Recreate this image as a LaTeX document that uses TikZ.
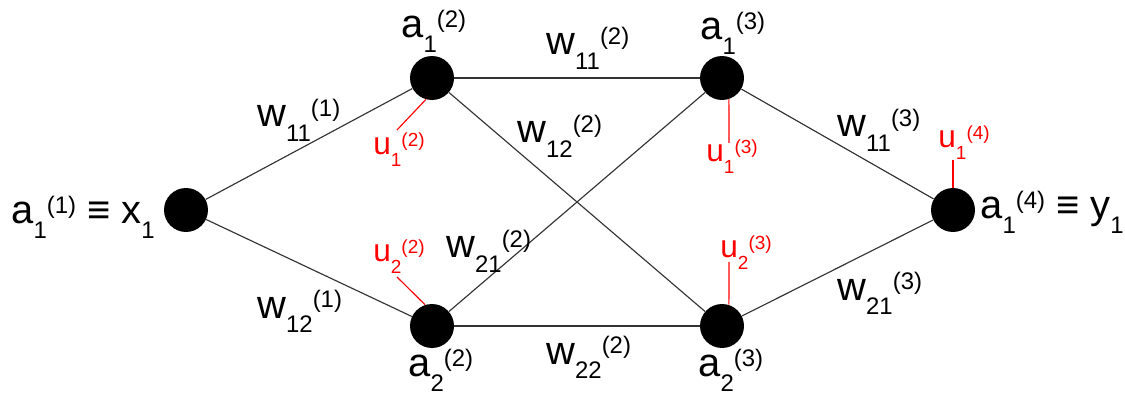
\documentclass[tikz,border=0pt]{standalone}
\usepackage{fontspec}
\setmainfont{Liberation Sans}
\usetikzlibrary{positioning}

% symbol with subscript, then superscript set after it
\newcommand{\subsup}[3]{#1\raisebox{-0.36em}{\scalebox{0.6}{#2}}\raisebox{0.27em}{\scalebox{0.6}{#3}}}

\begin{document}
\begin{tikzpicture}[
  x=0.02cm, y=-0.02cm,
  neuron/.style={circle, fill=black, minimum size=0.88cm, inner sep=0},
  syn/.style={draw=black!80, line width=0.65pt},
  bias/.style={draw=red, line width=0.65pt},
  lbl/.style={inner sep=0, anchor=base west, font=\fontsize{22.7}{26}\selectfont},
  ulbl/.style={inner sep=0, anchor=base west, text=red, font=\fontsize{18}{21}\selectfont},
]
\useasboundingbox (0,0) rectangle (1125,398);

% neurons
\node[neuron] (x1)  at (186,210) {};
\node[neuron] (h21) at (432,78)  {};
\node[neuron] (h22) at (432,326) {};
\node[neuron] (h31) at (722,78)  {};
\node[neuron] (h32) at (722,326) {};
\node[neuron] (y1)  at (953,210) {};

% synapses
\draw[syn] (x1) -- (h21);
\draw[syn] (x1) -- (h22);
\draw[syn] (h21) -- (h31);
\draw[syn] (h21) -- (h32);
\draw[syn] (h22) -- (h31);
\draw[syn] (h22) -- (h32);
\draw[syn] (h31) -- (y1);
\draw[syn] (h32) -- (y1);

% activations
\node[lbl] (lx)  at (11,224)  {\subsup{a}{1}{(1)} ≡ \subsup{x}{1}{}};
\node[lbl] (ly)  at (980,219) {\subsup{a}{1}{(4)} ≡ \subsup{y}{1}{}};
\node[lbl] (l21) at (401,38)  {\subsup{a}{1}{(2)}};
\node[lbl] (l31) at (700,40)  {\subsup{a}{1}{(3)}};
\node[lbl] (l22) at (408,377) {\subsup{a}{2}{(2)}};
\node[lbl] (l32) at (698,377) {\subsup{a}{2}{(3)}};

% weights
\node[lbl] (w111) at (257,127) {\subsup{w}{11}{(1)}};
\node[lbl] (w121) at (257,318) {\subsup{w}{12}{(1)}};
\node[lbl] (w112) at (546,55)  {\subsup{w}{11}{(2)}};
\node[lbl] (w122) at (517,143) {\subsup{w}{12}{(2)}};
\node[lbl] (w212) at (446,258) {\subsup{w}{21}{(2)}};
\node[lbl] (w222) at (546,364) {\subsup{w}{22}{(2)}};
\node[lbl] (w113) at (837,137) {\subsup{w}{11}{(3)}};
\node[lbl] (w213) at (837,300) {\subsup{w}{21}{(3)}};

% biases
\node[ulbl] (u21) at (373,155) {\subsup{u}{1}{(2)}};
\node[ulbl] (u22) at (373,262) {\subsup{u}{2}{(2)}};
\node[ulbl] (u31) at (706,162) {\subsup{u}{1}{(3)}};
\node[ulbl] (u32) at (720,258) {\subsup{u}{2}{(3)}};
\node[ulbl] (u41) at (938,148) {\subsup{u}{1}{(4)}};

\coordinate (b21) at (397,130);
\coordinate (b22) at (397,277);
\coordinate (b31) at (729,143);
\coordinate (b32) at (729,262);
\coordinate (b41) at (953,160);
\draw[bias] (h21.-106) -- (b21);
\draw[bias] (h22.108) -- (b22);
\draw[bias] (h31.-72) -- (b31);
\draw[bias] (h32.72) -- (b32);
\draw[bias] (y1.90) -- (b41);

\end{tikzpicture}
\end{document}
